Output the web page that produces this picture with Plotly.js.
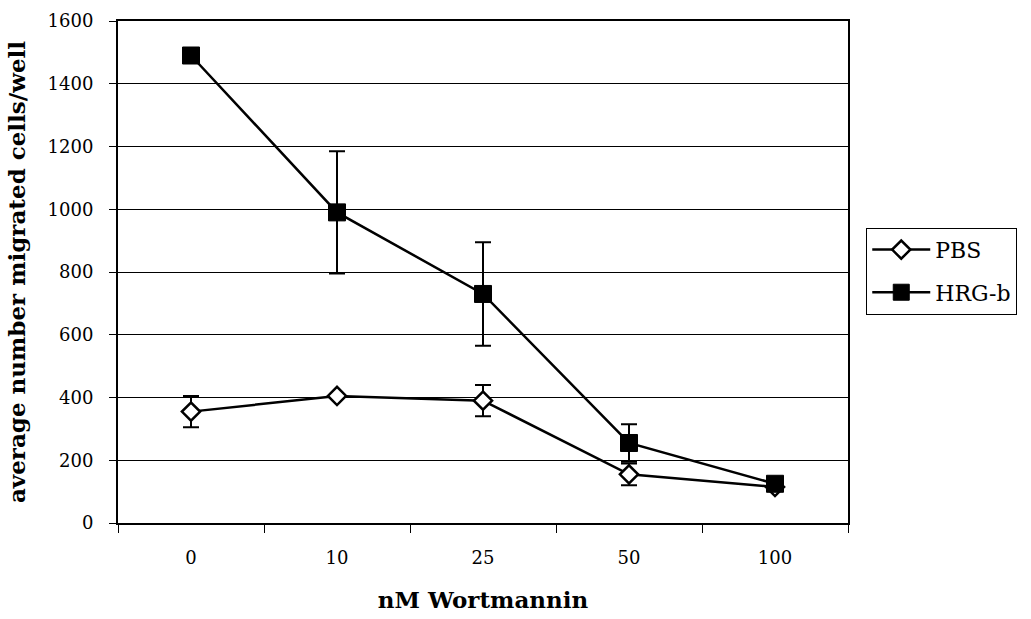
<!DOCTYPE html>
<html>
<head>
<meta charset="utf-8">
<script src="https://cdn.plot.ly/plotly-3.0.1.min.js"></script>
<style>html,body{margin:0;padding:0;background:#fff;}#chart{width:1031px;height:619px;}</style>
</head>
<body>
<div id="chart"></div>
<script>
const categories = ['0', '10', '25', '50', '100'];
const pbsValues = [355, 405, 390, 155, 115];
const pbsErrors = [50, 0, 50, 35, 0];
const hrgValues = [1490, 990, 730, 255, 125];
const hrgErrors = [0, 195, 165, 60, 0];
const yTickVals = [0, 200, 400, 600, 800, 1000, 1200, 1400, 1600];

const serif = 'DejaVu Serif, Liberation Serif, serif';

const traces = [
  {
    name: 'PBS', legendgroup: 'pbs', x: categories, y: pbsValues, type: 'scatter', mode: 'lines+markers',
    line: {color: '#000', width: 2.5},
    marker: {symbol: 'diamond', size: 14, color: '#fff', line: {color: '#000', width: 2.5}},
    error_y: {type: 'data', array: pbsErrors, visible: true, color: '#000', thickness: 2, width: 8}
  },
  {
    name: 'HRG-b', legendgroup: 'hrg', x: categories, y: hrgValues, type: 'scatter', mode: 'lines+markers',
    line: {color: '#000', width: 2.5},
    marker: {symbol: 'square', size: 17, color: '#000', line: {color: '#000', width: 1}},
    error_y: {type: 'data', array: hrgErrors, visible: true, color: '#000', thickness: 2, width: 8}
  }
];

const layout = {
  width: 1031, height: 619,
  margin: {l: 118, r: 183, t: 21, b: 96},
  paper_bgcolor: '#fff', plot_bgcolor: '#fff',
  font: {family: serif, color: '#000', size: 18},
  showlegend: true,
  legend: {
    x: 1.025, y: 0.588, xanchor: 'left', yanchor: 'top',
    bordercolor: '#000', borderwidth: 1, bgcolor: '#fff',
    font: {family: serif, size: 22, color: '#000'},
    tracegroupgap: 11, itemwidth: 58
  },
  xaxis: {
    type: 'category', categoryorder: 'array', categoryarray: categories,
    range: [-0.5, 4.5], autorange: false,
    tickson: 'boundaries', ticks: 'outside', ticklen: 8, tickwidth: 1, tickcolor: '#000',
    showline: true, linecolor: '#000', linewidth: 2, mirror: true,
    showgrid: false, zeroline: false,
    tickfont: {family: serif, size: 18},
    ticklabelstandoff: 17,
    title: {text: 'nM Wortmannin', font: {family: serif, size: 23, weight: 'bold'}, standoff: 25}
  },
  yaxis: {
    range: [0, 1600], autorange: false, tickmode: 'array', tickvals: yTickVals,
    ticks: 'outside', ticklen: 7, tickwidth: 1, tickcolor: '#000',
    showline: true, linecolor: '#000', linewidth: 2, mirror: true,
    showgrid: true, gridcolor: '#000', gridwidth: 1, zeroline: false,
    tickfont: {family: serif, size: 18},
    ticklabelstandoff: 12,
    title: {text: 'average number migrated cells/well', font: {family: serif, size: 23, weight: 'bold'}, standoff: 16}
  }
};

Plotly.newPlot('chart', traces, layout, {displayModeBar: false, staticPlot: true});
</script>
</body>
</html>
